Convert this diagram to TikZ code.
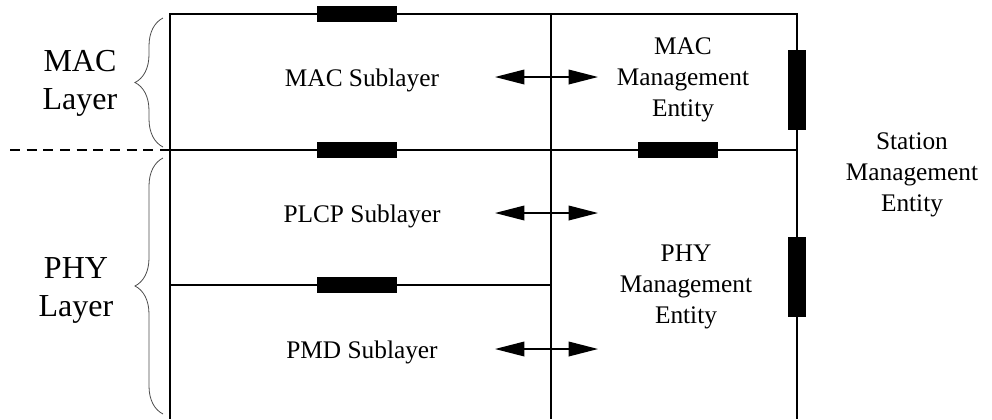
\documentclass[tikz,border=0pt]{standalone}
\usepackage{fontspec}
\setmainfont{Liberation Serif}
\usetikzlibrary{arrows.meta,decorations.pathreplacing}
\begin{document}
\begin{tikzpicture}[x=0.75pt,y=-0.75pt,line width=1pt,
  lbl/.style={align=center,font=\fontsize{19}{23}\selectfont},
  big/.style={align=center,font=\fontsize{24}{28.5}\selectfont},
  both/.style={{Triangle[length=22pt,width=11pt]}-{Triangle[length=22pt,width=11pt]}},
  brc/.style={decorate,decoration={brace,amplitude=21pt},line width=0.6pt,black!70}]

\useasboundingbox (0,0) rectangle (992,419);

\coordinate (tl) at (170,14);
\coordinate (tr) at (797,14);
\coordinate (bl) at (170,419);
\coordinate (br) at (797,419);
\coordinate (tm) at (551,14);
\coordinate (bm) at (551,419);
\coordinate (ml) at (170,150);
\coordinate (mr) at (797,150);
\coordinate (pl) at (170,285);
\coordinate (pm) at (551,285);
\coordinate (dl) at (10,150);

\draw (bl) -- (tl) -- (tr) -- (br);
\draw (tm) -- (bm);
\draw (ml) -- (mr);
\draw (pl) -- (pm);
\draw[dashed,dash pattern=on 7.5pt off 5pt] (dl) -- (ml);

\foreach \x/\y in {357/14,357/150,678/150,357/285}
  \fill (\x-40,\y-8) rectangle (\x+40,\y+8);
\foreach \y in {90,277}
  \fill (788,\y-40) rectangle (806,\y+40);

\node[lbl] (mac) at (362,80) {MAC Sublayer};
\node[lbl] (plcp) at (362,216) {PLCP Sublayer};
\node[lbl] (pmd) at (362,352) {PMD Sublayer};
\node[lbl] (macme) at (683,80) {MAC\\Management\\Entity};
\node[lbl] (phyme) at (686,287) {PHY\\Management\\Entity};
\node[lbl] (sme) at (912,175) {Station\\Management\\Entity};
\node[big] (maclayer) at (80,83) {MAC\\Layer};
\node[big] (phylayer) at (76,290) {PHY\\Layer};

\foreach \n/\y in {a/77,b/213,c/349}{
  \coordinate (\n1) at (495,\y);
  \coordinate (\n2) at (598,\y);
  \draw[both] (\n1) -- (\n2);
}

\draw[brc] (163,147) -- (163,18);
\draw[brc] (163,414) -- (163,158);

\end{tikzpicture}
\end{document}
